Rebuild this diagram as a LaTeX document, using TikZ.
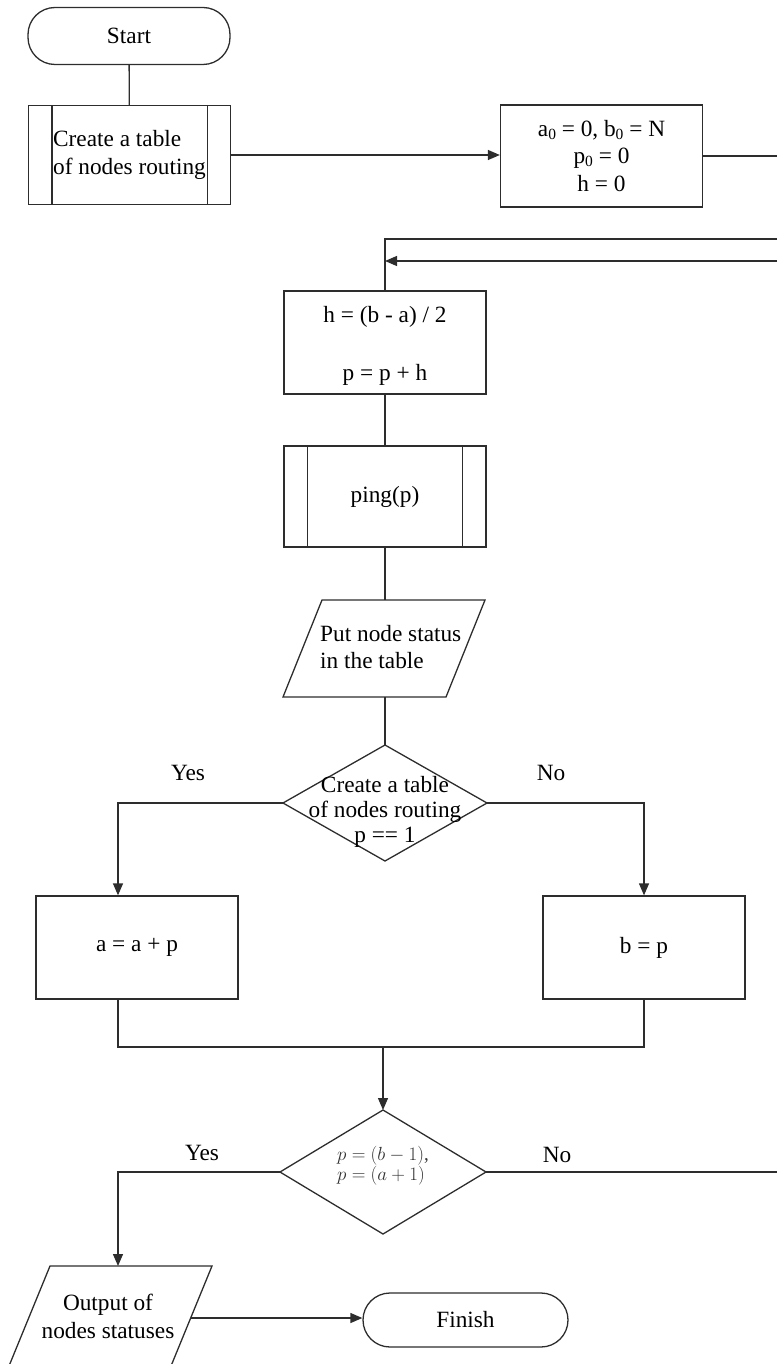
\documentclass[tikz,border=0pt]{standalone}
\usepackage{fix-cm}
\usepackage{fontspec}
\setmainfont{Liberation Serif}
\usetikzlibrary{arrows.meta,calc}
\definecolor{ln}{RGB}{45,45,45}
% small lowered zero used as an index
\newcommand\zsub{\raisebox{-0.12em}{\fontsize{15.5}{15.5}\selectfont 0}}
\begin{document}
\begin{tikzpicture}[x=1pt,y=-1pt,
  line/.style={draw=ln,line width=1.3pt},
  arr/.style={line,-{Triangle[length=12pt,width=10pt]}},
  box/.style={line,rectangle,minimum width=202pt,inner sep=0pt,
    font=\fontsize{23.3}{27.5}\selectfont,align=center},
  term/.style={box,rounded corners=27pt},
  geo/.style={rectangle,inner sep=0pt,outer sep=0pt,draw=none},
  txt/.style={inner sep=0pt,font=\fontsize{23.3}{27.5}\selectfont},
]
\useasboundingbox (0,0) rectangle (777,1364);

% --- top row
\node[term,minimum height=57pt] (start) at (129,36) {Start};
\node[box,minimum height=99pt,align=left] (tbl) at (129.5,155) {Create a table\\of nodes routing};
\draw[line] ([xshift=24pt]tbl.north west) -- ([xshift=24pt]tbl.south west);
\draw[line] ([xshift=-24pt]tbl.north east) -- ([xshift=-24pt]tbl.south east);
\node[box,minimum height=102pt] (init) at (601.5,156)
  {a\zsub{} = 0, b\zsub{} = N\\p\zsub{} = 0\\h = 0};

% --- main column
\node[box,minimum height=103pt] (hbox) at (385,342.5) {};
\node[txt,align=center] (hboxt) at (385,346) {h = (b - a) / 2\\[30pt]p = p + h};
\node[box,minimum height=101pt] (ping) at (385,496.5) {ping(p)};
\draw[line] ([xshift=24pt]ping.north west) -- ([xshift=24pt]ping.south west);
\draw[line] ([xshift=-24pt]ping.north east) -- ([xshift=-24pt]ping.south east);

% input/output parallelogram
\node[geo,minimum width=202pt,minimum height=97pt] (put) at (384,648.5) {};
\draw[line] ([xshift=39pt]put.north west) -- (put.north east)
  -- ([xshift=-39pt]put.south east) -- (put.south west) -- cycle;
\node[txt,align=left,anchor=west] (putt) at (320,647) {Put node status\\in the table};

% first decision
\node[geo,minimum width=204pt,minimum height=116pt] (d1) at (385,803) {};
\draw[line] (d1.north) -- (d1.east) -- (d1.south) -- (d1.west) -- cycle;
\node[txt,align=center,font=\fontsize{23.3}{25}\selectfont] (d1t) at (385,812)
  {Create a table\\of nodes routing\\p == 1};
\node[txt] (y1) at (188,773) {Yes};
\node[txt] (n1) at (551,773) {No};

\node[box,minimum height=103pt] (abox) at (137,947.5) {a = a + p};
\node[box,minimum height=103pt] (bbox) at (644,947.5) {b = p};

% second decision
\node[geo,minimum width=206pt,minimum height=124pt] (d2) at (383,1172) {};
\draw[line] (d2.north) -- (d2.east) -- (d2.south) -- (d2.west) -- cycle;
\node[txt,align=left,text=black!80,font=\fontsize{19}{20}\selectfont] (d2t) at (383,1166)
  {$p=(b-1)$,\\$p=(a+1)$};
\node[txt] (y2) at (202,1153) {Yes};
\node[txt] (n2) at (557,1155) {No};

% output and end
\node[geo,minimum width=203pt,minimum height=100pt] (out) at (110.5,1316) {};
\draw[line] ([xshift=41pt]out.north west) -- (out.north east)
  -- ([xshift=-41pt]out.south east) -- (out.south west) -- cycle;
\node[txt,align=center,font=\fontsize{23.3}{28}\selectfont] (outt) at (108,1316) {Output of\\nodes statuses};
\node[term,minimum width=205pt,minimum height=54pt] (fin) at (465.5,1320) {Finish};

% --- connectors
\coordinate (edge) at (777,0);
\coordinate (la) at (777,239);
\coordinate (lb) at (777,261);
\coordinate (m) at (383,1047);
\coordinate (outR) at (191,1318);

\draw[line] (start) -- (tbl);
\draw[arr] (tbl.east) -- (tbl.east -| init.west);
\draw[line] (init.east) -- (init.east -| edge);
\draw[line] (la) -| (hbox.north);
\draw[arr] (lb) -- (lb -| hbox.north);
\draw[line] (hbox) -- (ping);
\draw[line] (ping.south) -- (ping.south |- put.north);
\draw[line] (d1.north |- put.south) -- (d1.north);
\draw[arr] (d1.west) -| ([xshift=-19pt]abox.north);
\draw[arr] (d1.east) -| (bbox.north);
\draw[line] ([xshift=-19pt]abox.south) |- (m) -| (bbox.south);
\draw[arr] (m) -- (d2.north);
\draw[arr] (d2.west) -| ([xshift=7.5pt]out.north);
\draw[line] (d2.east) -- (d2.east -| edge);
\draw[arr] (outR) -- (outR -| fin.west);
\end{tikzpicture}
\end{document}
